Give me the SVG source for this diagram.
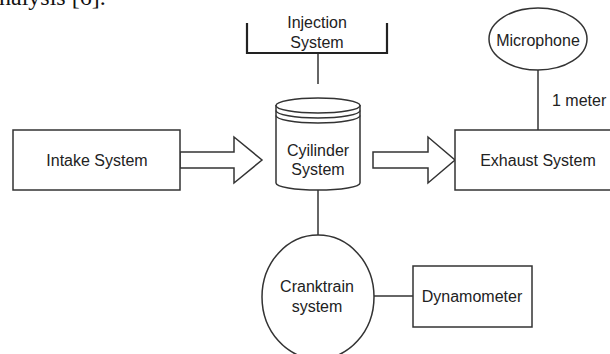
<svg xmlns="http://www.w3.org/2000/svg" width="610" height="354" viewBox="0 0 610 354">
<style>
.s{fill:#fff;stroke:#333;stroke-width:1.5}
.l{fill:none;stroke:#333;stroke-width:1.5}
.b{fill:none;stroke:#222;stroke-width:2.2}
.t{font-family:"Liberation Sans",Arial,sans-serif;font-size:16px;fill:#222;text-anchor:middle}
.cap{font-family:"Liberation Serif","Times New Roman",serif;font-size:24px;fill:#111}
</style>
<rect width="610" height="354" fill="#fff"/>
<text class="cap" x="-1" y="5">nalysis [6].</text>
<g id="connectors">
<line class="l" x1="318" y1="53" x2="318" y2="84"/>
<line class="l" x1="318" y1="190" x2="318" y2="235"/>
<line class="l" x1="374" y1="296" x2="413" y2="296"/>
<line class="l" x1="538" y1="70" x2="538" y2="130"/>
<polygon class="s" points="180,152 234,152 234,137 262,160 234,183 234,168 180,168"/>
<polygon class="s" points="373,152 428,152 428,137 455,160 428,183 428,168 373,168"/>
<text class="t" x="552" y="106" style="text-anchor:start">1 meter</text>
</g>
<g id="injection">
<path class="b" d="M247,23 V53 H387 V23"/>
<text class="t" x="317" y="28">Injection</text>
<text class="t" x="317" y="48">System</text>
</g>
<g id="intake">
<rect class="s" x="13" y="130" width="167" height="60"/>
<text class="t" x="97" y="166">Intake System</text>
</g>
<g id="cylinder">
<path class="s" d="M276,105 L276,183 A42,7 0 0 0 360,183 L360,105"/>
<ellipse class="s" cx="318" cy="105.5" rx="42" ry="7.5"/>
<path class="l" d="M276,110.5 A42,7.5 0 0 0 360,110.5"/>
<path class="l" d="M276,115.5 A42,7.5 0 0 0 360,115.5"/>
<text class="t" x="318" y="156">Cyilinder</text>
<text class="t" x="318" y="175">System</text>
</g>
<g id="exhaust">
<rect class="s" x="455" y="130" width="167" height="60"/>
<text class="t" x="538" y="166">Exhaust System</text>
</g>
<g id="microphone">
<ellipse class="s" cx="538" cy="39" rx="49" ry="31"/>
<text class="t" x="538" y="46">Microphone</text>
</g>
<g id="cranktrain">
<ellipse class="s" cx="318" cy="297" rx="56" ry="62"/>
<text class="t" x="317" y="292">Cranktrain</text>
<text class="t" x="317" y="312">system</text>
</g>
<g id="dynamometer">
<rect class="s" x="413" y="266" width="119" height="61"/>
<text class="t" x="472" y="302">Dynamometer</text>
</g>
</svg>
